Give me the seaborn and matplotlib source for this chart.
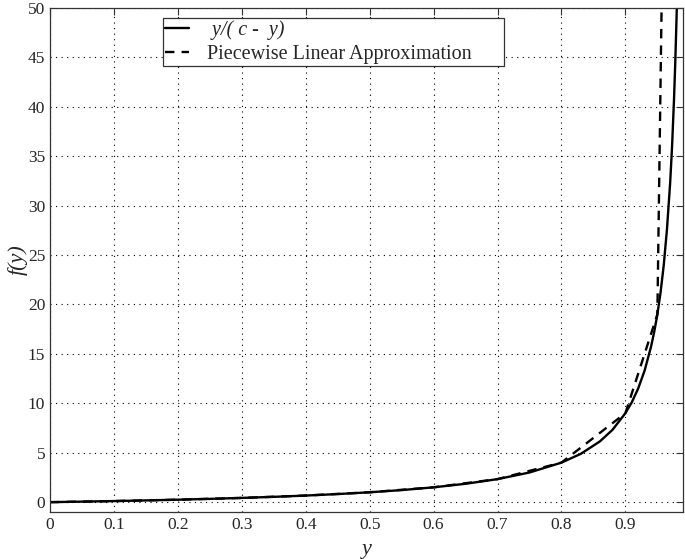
import numpy as np
import pandas as pd
import seaborn as sns
import matplotlib.pyplot as plt

# curve y/(c - y)
curva_y = [0.0, 0.05, 0.1, 0.15, 0.2, 0.25, 0.3, 0.35, 0.4, 0.45, 0.5, 0.55, 0.6,
           0.65, 0.7, 0.75, 0.8, 0.83, 0.86, 0.88, 0.9, 0.91, 0.92, 0.93, 0.94,
           0.945, 0.95, 0.955, 0.96, 0.965, 0.97, 0.973, 0.976, 0.978, 0.98, 0.982]
curva_f = [0.0, 0.053, 0.111, 0.176, 0.25, 0.333, 0.429, 0.538, 0.667, 0.818, 1.0,
           1.22, 1.5, 1.86, 2.33, 3.0, 4.0, 4.88, 6.14, 7.33, 9.0, 10.1, 11.5, 13.3,
           15.7, 17.2, 19.0, 21.2, 24.0, 27.6, 32.3, 36.0, 40.7, 44.5, 49.0, 54.6]

# piecewise linear approximation
aprox_y = [0.0, 0.1, 0.2, 0.3, 0.4, 0.5, 0.6, 0.7, 0.8, 0.9, 0.95, 0.957]
aprox_f = [0.0, 0.111, 0.25, 0.429, 0.667, 1.0, 1.5, 2.33, 4.0, 9.0, 19.0, 52.0]

rotulo1 = ' y/( c -  y)'
rotulo2 = 'Piecewise Linear Approximation      '

df = pd.concat([
    pd.DataFrame({'y': curva_y, 'f': curva_f, 'serie': rotulo1}),
    pd.DataFrame({'y': aprox_y, 'f': aprox_f, 'serie': rotulo2}),
])

sns.set_style('white')
plt.rcParams['font.family'] = ['Liberation Serif', 'DejaVu Serif']

fig = plt.figure(figsize=(6.85, 5.59), dpi=100)
ax = fig.add_axes([0.073, 0.084, 0.924, 0.902])

sns.lineplot(data=df, x='y', y='f', style='serie', sort=False, color='black',
             linewidth=1.7, dashes={rotulo1: '', rotulo2: (4, 3)}, ax=ax)

ax.set_xlim(0, 0.99)
ax.set_ylim(-1, 50)
ax.set_xticks(np.arange(0, 0.95, 0.1))
ax.set_xticklabels(['0', '0.1', '0.2', '0.3', '0.4', '0.5', '0.6', '0.7', '0.8', '0.9'])
ax.set_yticks(np.arange(0, 51, 5))
ax.tick_params(direction='in', top=True, right=True, length=5, labelsize=12.5,
               color='#333333')
ax.grid(True, linestyle=(0, (1, 4)), color='black', linewidth=0.8)
for s in ax.spines.values():
    s.set_color('#333333')
    s.set_linewidth(0.9)

ax.set_xlabel('y', fontsize=16, style='italic', labelpad=5)
ax.set_ylabel('f(y)', fontsize=16, style='italic', labelpad=0)

leg = ax.legend(loc='upper left', bbox_to_anchor=(0.178, 0.980), fontsize=14.5,
                fancybox=False, framealpha=1, edgecolor='#333333',
                handlelength=1.2, handletextpad=0.9, borderpad=0.12,
                labelspacing=0.22, borderaxespad=0)
leg.get_frame().set_linewidth(0.9)
leg.get_texts()[0].set_style('italic')

fig.savefig('out.png', dpi=100)
